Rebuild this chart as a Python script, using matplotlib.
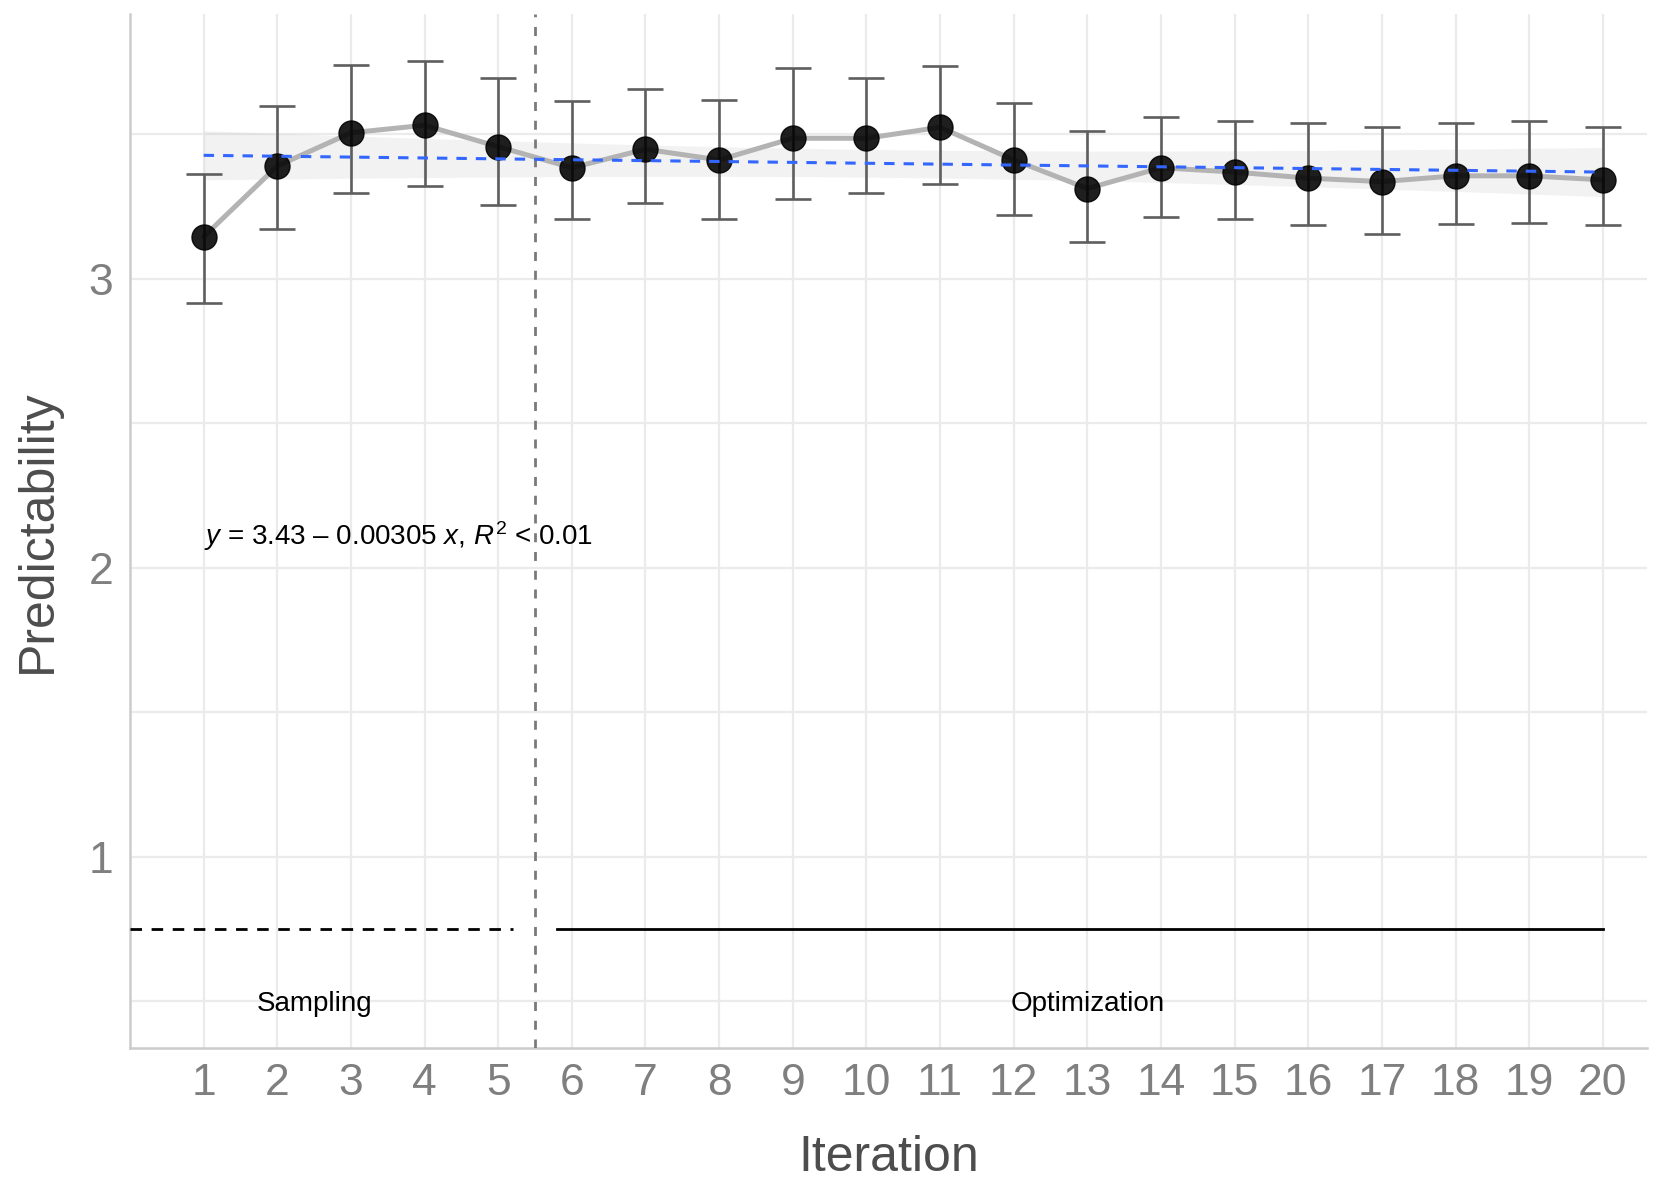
import numpy as np
import matplotlib
matplotlib.use("Agg")
import matplotlib.pyplot as plt

plt.rcParams['font.family'] = ['Liberation Sans', 'DejaVu Sans']
plt.rcParams['mathtext.fontset'] = 'custom'
plt.rcParams['mathtext.rm'] = 'Liberation Sans'
plt.rcParams['mathtext.it'] = 'Liberation Sans:italic'
plt.rcParams['lines.scale_dashes'] = False

# ---- data ----
iteration = list(range(1, 21))
mean_pred = [3.145, 3.390, 3.505, 3.531, 3.457, 3.384, 3.448, 3.411, 3.486, 3.486,
             3.524, 3.411, 3.312, 3.384, 3.369, 3.348, 3.336, 3.356, 3.356, 3.342]
err_upper = [3.363, 3.599, 3.740, 3.754, 3.693, 3.614, 3.657, 3.618, 3.728, 3.693,
             3.735, 3.607, 3.511, 3.558, 3.545, 3.539, 3.525, 3.539, 3.545, 3.525]
err_lower = [2.917, 3.173, 3.295, 3.322, 3.255, 3.208, 3.261, 3.208, 3.275, 3.295,
             3.328, 3.221, 3.126, 3.215, 3.208, 3.187, 3.154, 3.188, 3.194, 3.187]
fit_intercept = 3.43
fit_slope = -0.00305
band_half_mid = 0.048     # confidence band half-width at centre of x range
band_half_end = 0.085     # confidence band half-width at x = 1 / x = 20
phase_labels = ["Sampling", "Optimization"]
phase_label_x = [2.5, 13.0]
phase_line_y = 0.75
equation_label = "$y$ = 3.43 \u2013 0.00305 $x$, $R^2$ < 0.01"

W, H = 1661, 1199
fig = plt.figure(figsize=(W / 100, H / 100), dpi=100)
ax = fig.add_axes([130 / W, 1 - 1048 / H, (1647 - 130) / W, (1048 - 14) / H])

x = np.array(iteration, dtype=float)
y = np.array(mean_pred)
lo = np.array(err_lower)
hi = np.array(err_upper)

# confidence band of the linear fit
xs = np.linspace(1, 20, 200)
xc = 10.5
b = (band_half_end ** 2 - band_half_mid ** 2) / (1 - xc) ** 2
hw = np.sqrt(band_half_mid ** 2 + b * (xs - xc) ** 2)
fit = fit_intercept + fit_slope * xs
ax.fill_between(xs, fit - hw, fit + hw, color='#999999', alpha=0.12, lw=0, zorder=2)

# connecting line
ax.plot(x, y, color='#b3b3b3', lw=3.6, zorder=3, solid_capstyle='round')
# error bars
ax.errorbar(x, y, yerr=[y - lo, hi - y], fmt='none', ecolor='#5e5e5e', elinewidth=1.9,
            capsize=13.2, capthick=1.9, zorder=4)
# points
ax.plot(x, y, 'o', color='black', alpha=0.88, ms=18, mec='black', mew=1, zorder=5)
# regression line
ax.plot(xs, fit, color='#3366FF', lw=2.2, dashes=(7.5, 6.5), zorder=6)

# phase separators
ax.axvline(5.5, color='#7a7a7a', lw=2.0, dashes=(6.5, 7), zorder=3)
ax.plot([0, 5.2], [phase_line_y, phase_line_y], color='black', lw=2.0, dashes=(8.3, 6.9), zorder=3)
ax.plot([5.8, 20], [phase_line_y, phase_line_y], color='black', lw=2.0, zorder=3)
for lab, px in zip(phase_labels, phase_label_x):
    ax.text(px, 0.49, lab, ha='center', va='center', fontsize=20, color='black')

ax.text(1.0, 2.11, equation_label, ha='left', va='center', fontsize=20, color='black')

ax.set_xlim(0.0, 20.6)
ax.set_ylim(0.338, 3.916)
ax.set_xticks(iteration)
ax.set_yticks([1, 2, 3])
ax.set_yticks([0.5, 1.5, 2.5, 3.5], minor=True)
ax.grid(True, which='both', color='#ebebeb', lw=1.6, zorder=0)
ax.set_axisbelow(True)
ax.tick_params(axis='both', which='both', length=0, labelsize=32, labelcolor='#7f7f7f')
ax.tick_params(axis='x', pad=11)
ax.tick_params(axis='y', pad=12)
for s in ['top', 'right']:
    ax.spines[s].set_visible(False)
for s in ['left', 'bottom']:
    ax.spines[s].set_color('#cccccc')
    ax.spines[s].set_linewidth(1.8)
ax.set_xlabel("Iteration", fontsize=36, color='#4d4d4d', labelpad=22)
ax.set_ylabel("Predictability", fontsize=36, color='#4d4d4d', labelpad=20)

fig.savefig("out.png", dpi=100)
